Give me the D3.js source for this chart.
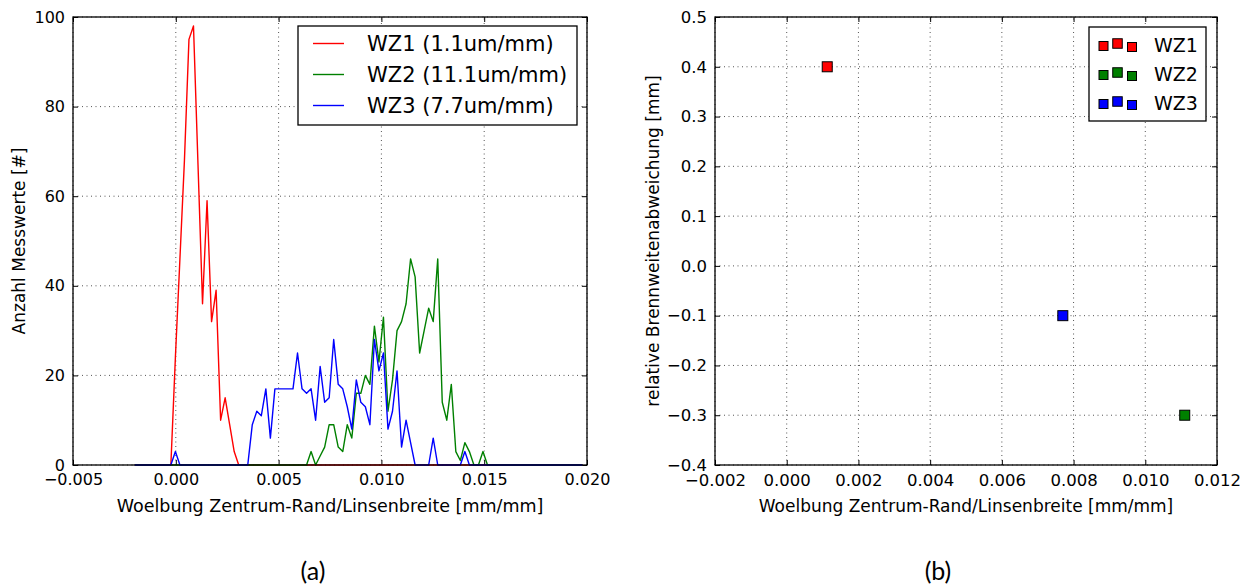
<!DOCTYPE html>
<html>
<head>
<meta charset="utf-8">
<script src="https://cdn.jsdelivr.net/npm/d3@7"></script>
<style>
  body { margin: 0; background: #fff; }
  svg { display: block; }
  text { font-family: "DejaVu Sans", sans-serif; fill: #000; }
</style>
</head>
<body>
<svg id="fig" width="1247" height="586"></svg>
<script>
// histogram bins (numpy style: 100 bins from -0.002 to 0.020), left edges are plotted
const binStart = -0.002;
const binWidth = 0.00022;

// counts per bin
const wz1Counts = [
  0,0,0,0,0,0,0,0,0,24, 46,68,95,98,67,36,59,32,39,10, 15,9,3,0,0,0,0,0,0,0,
  0,0,0,0,0,0,0,0,0,0, 0,0,0,0,0,0,0,0,0,0, 0,0,0,0,0,0,0,0,0,0,
  0,0,0,0,0,0,0,0,0,0, 0,0,0,0,0,0,0,0,0,0, 0,0,0,0,0,0,0,0,0,0,
  0,0,0,0,0,0,0,0,0,0
];
const wz2Counts = [
  0,0,0,0,0,0,0,0,0,0, 0,0,0,0,0,0,0,0,0,0, 0,0,0,0,0,0,0,0,0,0,
  0,0,0,0,0,0,0,0,0,3, 0,2,4,9,9,4,3,9,6,16, 16,20,18,31,23,33,12,19,30,32,
  36,46,42,25,30,35,32,46,14,10, 18,3,1,5,3,0,0,3,0,0, 0,0,0,0,0,0,0,0,0,0,
  0,0,0,0,0,0,0,0,0,0
];
const wz3Counts = [
  0,0,0,0,0,0,0,0,0,3, 0,0,0,0,0,0,0,0,0,0, 0,0,0,0,0,0,9,12,11,17,
  6,17,17,17,17,17,25,17,16,17, 10,22,14,15,28,18,17,13,8,19, 14,13,9,28,21,25,8,12,21,4,
  10,5,0,0,0,0,6,0,0,0, 0,0,0,3,0,0,0,0,0,0, 0,0,0,0,0,0,0,0,0,0,
  0,0,0,0,0,0,0,0,0,0
];
const histNames = ["WZ1 (1.1um/mm)", "WZ2 (11.1um/mm)", "WZ3 (7.7um/mm)"];

// scatter: one point per tool
const toolNames = ["WZ1", "WZ2", "WZ3"];
const toolCurvature = [0.00113, 0.0111, 0.0077];
const toolDeviation = [0.4, -0.3, -0.1];

const colors = ["#ff0000", "#008000", "#0000ff"];

const leftXTicks = [-0.005, 0, 0.005, 0.01, 0.015, 0.02];
const leftYTicks = [0, 20, 40, 60, 80, 100];
const rightXTicks = [-0.002, 0, 0.002, 0.004, 0.006, 0.008, 0.01, 0.012];
const rightYTicks = [-0.4, -0.3, -0.2, -0.1, 0, 0.1, 0.2, 0.3, 0.4, 0.5];

const svg = d3.select("#fig");

function frame(x, y, xTicks, yTicks, xFmt, yFmt, fs) {
  const g = svg.append("g");
  const [x0, x1] = x.range(), [y0, y1] = y.range();
  // dotted grid
  g.selectAll(".gx").data(xTicks).enter().append("line")
    .attr("x1", d => x(d)).attr("x2", d => x(d)).attr("y1", y0).attr("y2", y1)
    .attr("stroke", "#555").attr("stroke-width", 1).attr("stroke-dasharray", "1,3.5");
  g.selectAll(".gy").data(yTicks).enter().append("line")
    .attr("x1", x0).attr("x2", x1).attr("y1", d => y(d)).attr("y2", d => y(d))
    .attr("stroke", "#555").attr("stroke-width", 1).attr("stroke-dasharray", "1,3.5");

  // axes with inward ticks on all sides
  g.append("g").attr("transform", `translate(0,${y0})`)
    .call(d3.axisBottom(x).tickValues(xTicks).tickFormat(xFmt).tickSizeInner(-5).tickSizeOuter(0).tickPadding(9));
  g.append("g").attr("transform", `translate(0,${y1})`)
    .call(d3.axisTop(x).tickValues(xTicks).tickFormat("").tickSizeInner(-5).tickSizeOuter(0));
  g.append("g").attr("transform", `translate(${x0},0)`)
    .call(d3.axisLeft(y).tickValues(yTicks).tickFormat(yFmt).tickSizeInner(-5).tickSizeOuter(0).tickPadding(8));
  g.append("g").attr("transform", `translate(${x1},0)`)
    .call(d3.axisRight(y).tickValues(yTicks).tickFormat("").tickSizeInner(-5).tickSizeOuter(0));
  g.selectAll(".domain").remove();
  g.selectAll(".tick line").attr("stroke", "#000").attr("stroke-width", 1);
  g.selectAll(".tick text").style("font-size", fs + "px").style("font-family", "DejaVu Sans").attr("fill", "#000");

  g.append("rect").attr("x", x0).attr("y", y1).attr("width", x1 - x0).attr("height", y0 - y1)
    .attr("fill", "none").attr("stroke", "#000").attr("stroke-width", 1.3);
  return g;
}

// ---------- (a) histogram ----------
const xA = d3.scaleLinear().domain([-0.005, 0.02]).range([73, 587]);
const yA = d3.scaleLinear().domain([0, 100]).range([465, 17]);

const gA = frame(xA, yA, leftXTicks, leftYTicks, d3.format(".3f"), d3.format("d"), 16);

const line = d3.line().x((d, i) => xA(binStart + i * binWidth)).y(d => yA(d));
[wz1Counts, wz2Counts, wz3Counts].forEach((s, k) => {
  gA.insert("path", "rect")
    .attr("d", line(s))
    .attr("fill", "none")
    .attr("stroke", colors[k])
    .attr("stroke-width", 1.4)
    .attr("stroke-linejoin", "round");
});

// legend (a)
const legA = svg.append("g");
legA.append("rect").attr("x", 298).attr("y", 26).attr("width", 279).attr("height", 99)
  .attr("fill", "#fff").attr("stroke", "#000").attr("stroke-width", 1.3);
histNames.forEach((n, k) => {
  const yy = 43.5 + k * 31;
  legA.append("line").attr("x1", 313).attr("x2", 344).attr("y1", yy).attr("y2", yy)
    .attr("stroke", colors[k]).attr("stroke-width", 1.4);
  legA.append("text").attr("x", 367).attr("y", yy).attr("dy", "0.36em")
    .style("font-size", "21px").text(n);
});

svg.append("text").attr("x", 330).attr("y", 512).attr("text-anchor", "middle")
  .style("font-size", "17.5px").text("Woelbung Zentrum-Rand/Linsenbreite [mm/mm]");
svg.append("text").attr("transform", "translate(25,241) rotate(-90)").attr("text-anchor", "middle")
  .style("font-size", "17px").text("Anzahl Messwerte [#]");

// ---------- (b) scatter ----------
const xB = d3.scaleLinear().domain([-0.002, 0.012]).range([715, 1217]);
const yB = d3.scaleLinear().domain([-0.4, 0.5]).range([465, 17]);

const gB = frame(xB, yB, rightXTicks, rightYTicks, d3.format(".3f"), d3.format(".1f"), 16.5);

const ms = 10;
gB.selectAll(".pt").data(toolNames).enter().append("rect")
  .attr("x", (d, i) => xB(toolCurvature[i]) - ms / 2)
  .attr("y", (d, i) => yB(toolDeviation[i]) - ms / 2)
  .attr("width", ms).attr("height", ms)
  .attr("fill", (d, i) => colors[i])
  .attr("stroke", "#000").attr("stroke-width", 1);

// legend (b) - three scatter points per entry like matplotlib
const legB = svg.append("g");
legB.append("rect").attr("x", 1089).attr("y", 27).attr("width", 117).attr("height", 94)
  .attr("fill", "#fff").attr("stroke", "#000").attr("stroke-width", 1.3);
const legDots = [[1103.5, 1, 9], [1117.5, -1.5, 9.5], [1132, 2, 9]];
toolNames.forEach((n, k) => {
  const yy = 45 + k * 29;
  legDots.forEach(([lx, dy, s]) => {
    legB.append("rect").attr("x", lx - s / 2).attr("y", yy + dy - s / 2)
      .attr("width", s).attr("height", s)
      .attr("fill", colors[k]).attr("stroke", "#000").attr("stroke-width", 1);
  });
  legB.append("text").attr("x", 1154).attr("y", yy).attr("dy", "0.36em")
    .style("font-size", "19px").text(n);
});

svg.append("text").attr("x", 966).attr("y", 512).attr("text-anchor", "middle")
  .style("font-size", "17px").text("Woelbung Zentrum-Rand/Linsenbreite [mm/mm]");
svg.append("text").attr("transform", "translate(659,241) rotate(-90)").attr("text-anchor", "middle")
  .style("font-size", "17px").text("relative Brennweitenabweichung [mm]");

// sub-figure captions
svg.append("text").attr("x", 313).attr("y", 580).attr("text-anchor", "middle")
  .style("font-family", "Lato, 'Open Sans', sans-serif").style("font-size", "25px").text("(a)");
svg.append("text").attr("x", 938).attr("y", 580).attr("text-anchor", "middle")
  .style("font-family", "Lato, 'Open Sans', sans-serif").style("font-size", "25px").text("(b)");
</script>
</body>
</html>
